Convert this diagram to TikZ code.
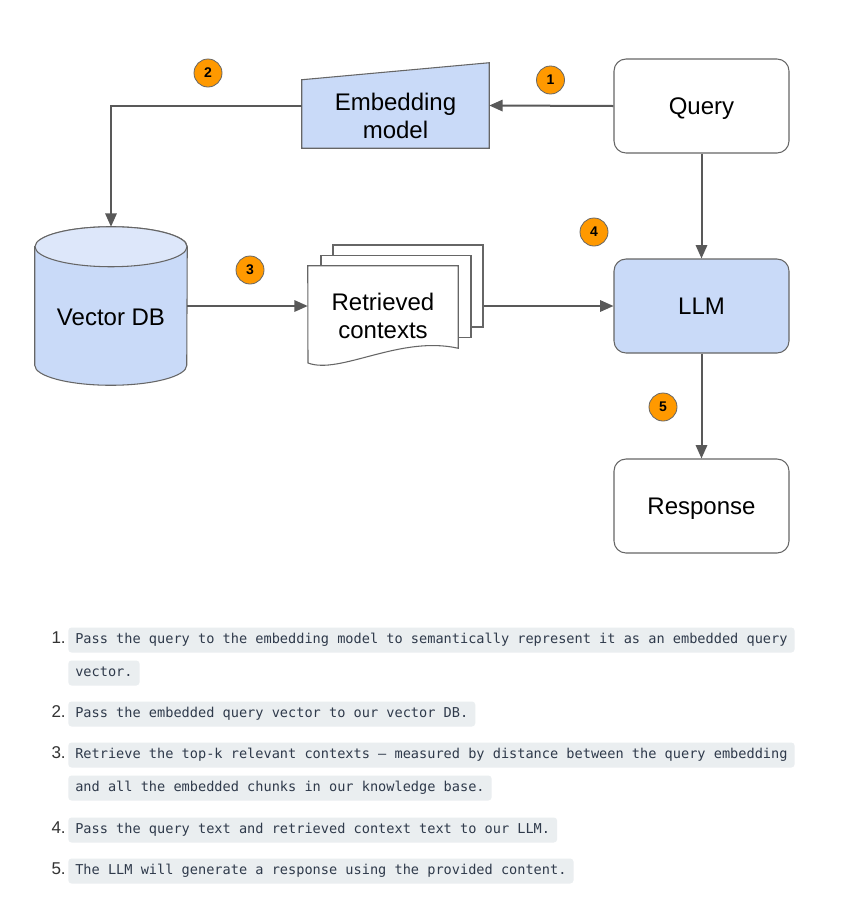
\documentclass[tikz,border=0pt]{standalone}
\usepackage{fontspec}
\setmainfont{Liberation Sans}
\setmonofont{DejaVu Sans Mono}
\usetikzlibrary{arrows.meta,positioning}

\definecolor{linegray}{HTML}{595959}
\definecolor{edgegray}{HTML}{666666}
\definecolor{llmblue}{HTML}{C9DAF8}
\definecolor{lidblue}{HTML}{DDE7FA}
\definecolor{badgeorange}{HTML}{FF9900}
\definecolor{codebg}{HTML}{EAEEF0}
\definecolor{codetext}{HTML}{2F3A4B}
\definecolor{numgray}{HTML}{333333}

\tikzstyle{procbox} = [rectangle, rounded corners=9pt, minimum width=131.25pt, minimum height=70.5pt, text centered, text height=13pt, text depth=0pt, draw=edgegray, line width=0.8pt, font=\fontsize{18}{20.6}\selectfont]
\tikzstyle{shapeline} = [draw=edgegray, line width=0.8pt]
\tikzstyle{ghost} = [rectangle, inner sep=0pt]
\tikzstyle{bigtext} = [align=center, font=\fontsize{18}{20.6}\selectfont]
\tikzstyle{sheet} = [ghost, minimum width=112.5pt, minimum height=61.5pt]
\tikzstyle{badge} = [circle, minimum size=21pt, inner sep=0pt, fill=badgeorange, draw=edgegray, line width=0.6pt, font=\bfseries\fontsize{10.5}{10.5}\selectfont]
\tikzstyle{arrow} = [-{Triangle[length=10pt,width=8.5pt]}, line width=1.5pt, draw=linegray]
\tikzstyle{codeline} = [anchor=west, fill=codebg, rounded corners=2.5pt, text=codetext, font=\ttfamily\fontsize{10.2}{12}\selectfont, inner xsep=5.25pt, minimum height=18.75pt, text height=7.8pt, text depth=2.4pt]
\tikzstyle{itemnum} = [anchor=east, text=numgray, font=\fontsize{12.8}{12.8}\selectfont, inner sep=0pt]

\begin{document}
\begin{tikzpicture}[x=0.75pt, y=-0.75pt, node distance=150pt]
	\fill [white] (0,0) rectangle (862,904);
	\useasboundingbox (0,0) rectangle (862,904);

	% right column
	\node (query) [procbox, fill=white] at (701.5,106) {Query};
	\node (llm) [procbox, fill=llmblue, below of=query] {LLM};
	\node (response) [procbox, fill=white, below of=llm] {Response};

	% embedding model (manual input shape)
	\node (embed) [ghost, minimum width=140.25pt, minimum height=63.75pt] at (395.5,105.5) {};
	\draw [shapeline, fill=llmblue] (embed.south west) -- (embed.south east) -- (embed.north east) -- ([yshift=-12.75pt]embed.north west) -- cycle;
	\node (embedtext) [bigtext] at (395.5,116) {Embedding\\model};

	% vector database
	\node (vdb) [ghost, minimum width=114pt, minimum height=118.5pt] at (111,306) {};
	\draw [shapeline, fill=llmblue] ([yshift=-15pt]vdb.north west) -- ([yshift=15pt]vdb.south west) arc [start angle=180, end angle=360, x radius=57pt, y radius=15pt] -- ([yshift=-15pt]vdb.north east) arc [start angle=0, end angle=180, x radius=57pt, y radius=15pt] -- cycle;
	\draw [shapeline, fill=lidblue] ([yshift=-15pt]vdb.north) ellipse [x radius=57pt, y radius=15pt];
	\node (vdbtext) [bigtext] at (111,317) {Vector DB};

	% retrieved contexts (stacked documents)
	\node (ctxback) [sheet, shapeline, fill=white] at (408,286) {};
	\node (ctxmid) [sheet, shapeline, fill=white] at (396,296.5) {};
	\node (ctx) [sheet] at (383,307) {};
	\draw [shapeline, fill=white] (ctx.north west) -- (ctx.north east) -- (ctx.south east) .. controls (400,335) and (340,375) .. (308,363) -- cycle;
	\node (ctxtext) [bigtext] at (383,316) {Retrieved\\contexts};

	\draw [arrow] (query.west) -- (embed.east);
	\draw [arrow] (embed.west) -| (vdb.north);
	\draw [arrow] (vdb.east) -- (vdb.east -| ctx.west);
	\draw [arrow] (ctxback.east |- llm.west) -- (llm.west);
	\draw [arrow] (query) -- (llm);
	\draw [arrow] (llm) -- (response);

	% step badges
	\node (b1) [badge] at (550.5,80) {1};
	\node (b2) [badge] at (208,73) {2};
	\node (b3) [badge] at (250,270) {3};
	\node (b4) [badge] at (594,232) {4};
	\node (b5) [badge] at (663,407) {5};

	% numbered notes
	\node (n1) [itemnum] at (66,638) {1.};
	\node (c1) [codeline] at (68,640) {Pass the query to the embedding model to semantically represent it as an embedded query};
	\node (c1b) [codeline] at (68,673) {vector.};
	\node (n2) [itemnum] at (66,712) {2.};
	\node (c2) [codeline] at (68,714) {Pass the embedded query vector to our vector DB.};
	\node (n3) [itemnum] at (66,753) {3.};
	\node (c3) [codeline] at (68,755) {Retrieve the top-k relevant contexts – measured by distance between the query embedding};
	\node (c3b) [codeline] at (68,788) {and all the embedded chunks in our knowledge base.};
	\node (n4) [itemnum] at (66,828) {4.};
	\node (c4) [codeline] at (68,830) {Pass the query text and retrieved context text to our LLM.};
	\node (n5) [itemnum] at (66,869) {5.};
	\node (c5) [codeline] at (68,871) {The LLM will generate a response using the provided content.};
\end{tikzpicture}
\end{document}
